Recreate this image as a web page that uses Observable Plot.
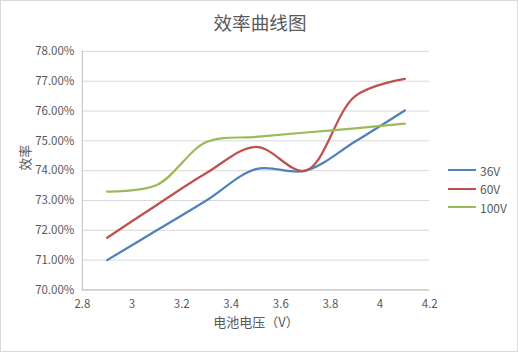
<!DOCTYPE html>
<html><head><meta charset="utf-8">
<script src="https://cdn.jsdelivr.net/npm/d3@7"></script>
<script src="https://cdn.jsdelivr.net/npm/@observablehq/plot@0.6"></script>
<style>
body{margin:0;background:#fff;font-family:"Noto Sans CJK SC","Noto Sans",sans-serif;}
#wrap{position:relative;width:518px;height:352px;box-sizing:border-box;border:1px solid #d9d9d9;overflow:hidden;}
#plot{position:absolute;left:-1px;top:-1px;}
#title{position:absolute;left:0;width:518px;top:9px;text-align:center;font-size:18.6px;color:#595959;line-height:24px;}
#legend{position:absolute;left:447px;top:160px;font-size:12px;color:#595959;}
.row{height:18.5px;display:flex;align-items:center;}
.sw{width:28px;height:2px;margin-right:4px;}
</style></head>
<body><div id="wrap"><div id="plot"></div><div id="title"></div><div id="legend"></div></div>
<script>
const title = "效率曲线图";
const xLabel = "电池电压（V）";
const yLabel = "效率";
const voltages = [2.9, 3.1, 3.3, 3.5, 3.7, 3.9, 4.1];
const seriesNames = ["36V", "60V", "100V"];
const colors = ["#4F81BD", "#C0504D", "#9BBB59"];
const eff36 = [71.00, 72.00, 73.00, 74.05, 74.00, 74.98, 76.02];
const eff60 = [71.75, 72.85, 73.92, 74.80, 74.00, 76.50, 77.08];
const eff100 = [73.30, 73.52, 74.96, 75.13, 75.28, 75.42, 75.58];
const xTicks = [2.8, 3, 3.2, 3.4, 3.6, 3.8, 4, 4.2];
const yTicks = [70, 71, 72, 73, 74, 75, 76, 77, 78];

const allSeries = [eff36, eff60, eff100];
const data = [];
allSeries.forEach((vals, i) => vals.forEach((v, j) => data.push({x: voltages[j], y: v, s: seriesNames[i]})));

const font = '"Noto Sans CJK SC","Noto Sans",sans-serif';
const chart = Plot.plot({
  width: 518, height: 352,
  marginLeft: 82, marginRight: 88, marginTop: 51, marginBottom: 62,
  style: {fontFamily: font, fontSize: "11px", color: "#595959", background: "transparent"},
  x: {domain: [2.8, 4.2]},
  y: {domain: [70, 78]},
  color: {domain: seriesNames, range: colors},
  marks: [
    Plot.gridY(yTicks, {stroke: "#d9d9d9", strokeOpacity: 1}),
    Plot.ruleX([2.8], {stroke: "#bfbfbf"}),
    Plot.ruleY([70], {stroke: "#bfbfbf"}),
    Plot.axisX(xTicks, {tickSize: 0, tickPadding: 10, label: null, fill: "#595959", fontSize: 11.5, tickFormat: d => String(+d.toFixed(1))}),
    Plot.axisY(yTicks, {tickSize: 0, tickPadding: 8, label: null, fill: "#595959", fontSize: 11.5, tickFormat: d => d.toFixed(2) + "%"}),
    Plot.line(data, {x: "x", y: "y", z: "s", stroke: "s", strokeWidth: 2.25, curve: "catmull-rom"}),
    Plot.text([xLabel], {frameAnchor: "bottom", dy: 37, text: d => d, fontSize: 13, fill: "#595959"}),
    Plot.text([yLabel], {frameAnchor: "left", dx: -57, rotate: -90, text: d => d, fontSize: 13, fill: "#595959"})
  ]
});
document.getElementById("plot").appendChild(chart);
document.getElementById("title").textContent = title;
const lg = document.getElementById("legend");
seriesNames.forEach((n, i) => {
  const r = document.createElement("div"); r.className = "row";
  const sw = document.createElement("div"); sw.className = "sw"; sw.style.background = colors[i];
  const t = document.createElement("span"); t.textContent = n;
  r.appendChild(sw); r.appendChild(t); lg.appendChild(r);
});
</script></body></html>
